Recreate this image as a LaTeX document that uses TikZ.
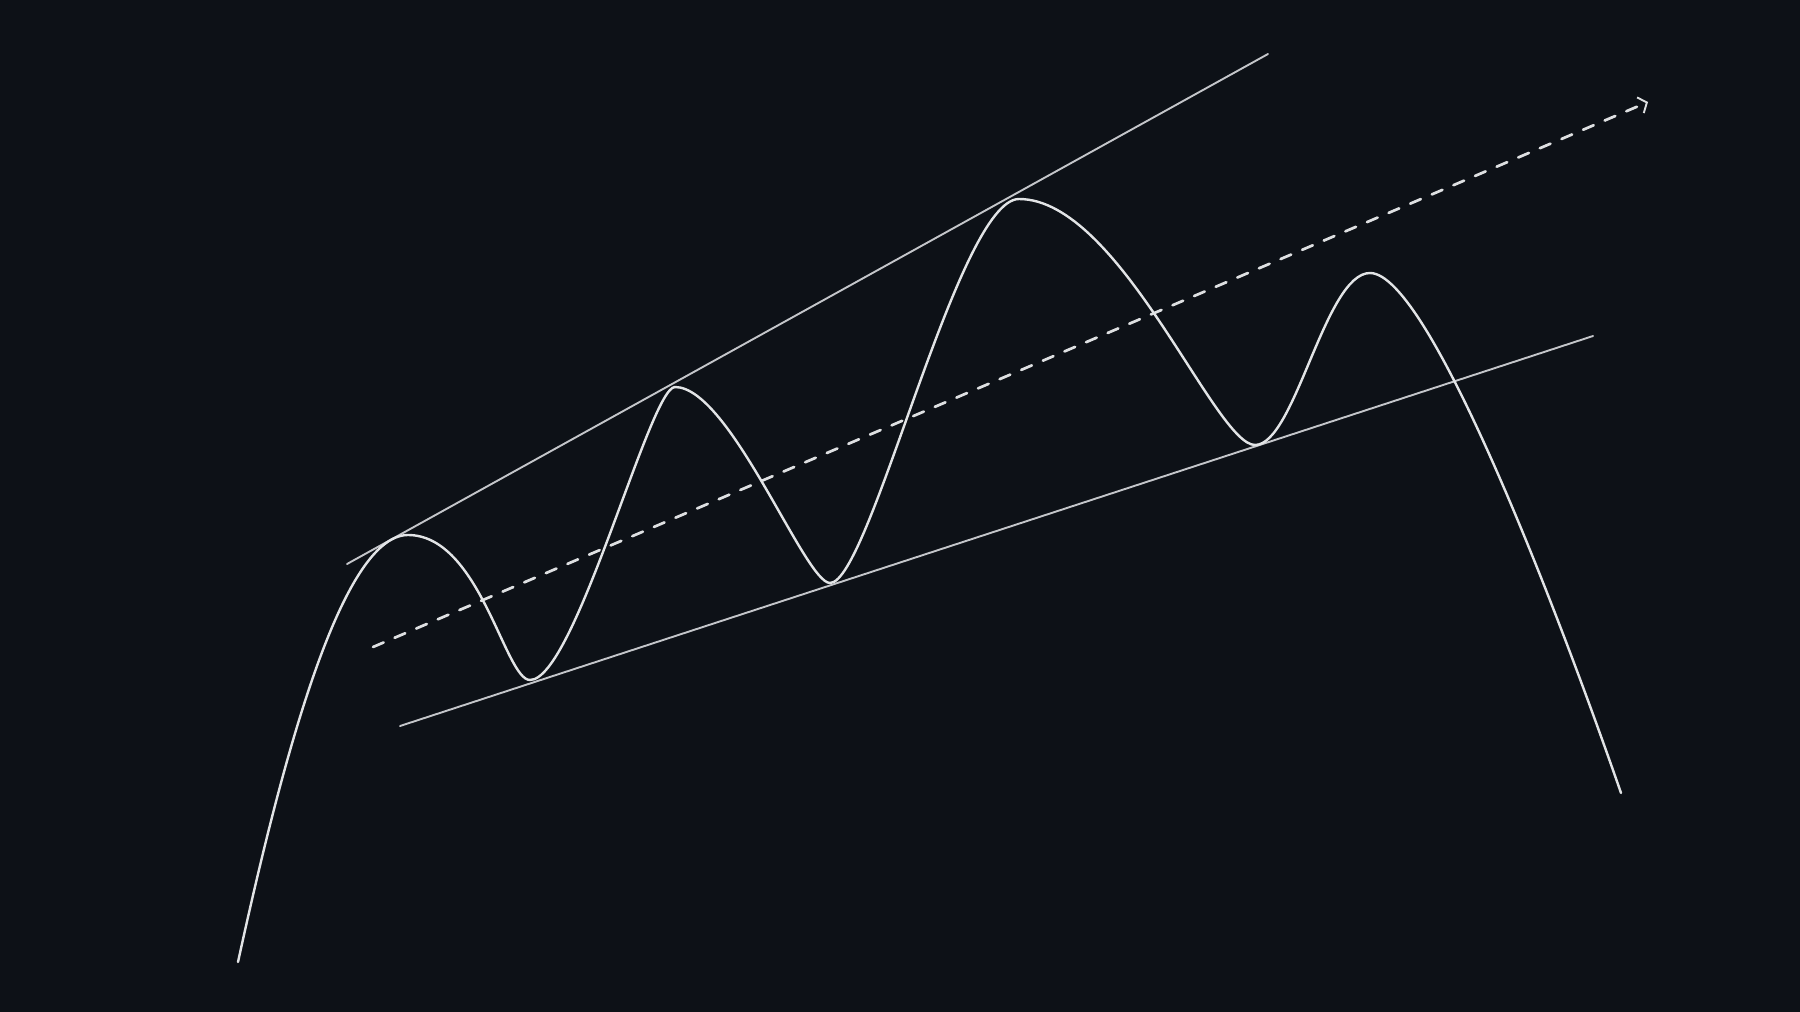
\documentclass[tikz,border=0pt]{standalone}
\usetikzlibrary{arrows.meta}
\definecolor{bgcol}{RGB}{13,17,23}
\definecolor{curvecol}{RGB}{226,228,230}
\definecolor{trendcol}{RGB}{196,198,202}
\definecolor{dashcol}{RGB}{222,224,226}
\tikzset{
  pricecurve/.style={draw=curvecol, line width=2.4pt, line cap=round, line join=round},
  trendline/.style={draw=trendcol, line width=1.9pt, line cap=round},
  midtrend/.style={draw=dashcol, line width=2.7pt, line cap=round, dash pattern=on 11.5pt off 12pt,
    -{Straight Barb[length=7pt,width=17pt,line width=1.9pt]}}
}
\begin{document}
\begin{tikzpicture}[x=1pt,y=-1pt]
  \path[fill=bgcol, use as bounding box] (0,0) rectangle (1800,1012);
  % price curve extremes
  \coordinate (s)  at (238,962);
  \coordinate (p1) at (408,535);
  \coordinate (t1) at (530,680);
  \coordinate (p2) at (675,387);
  \coordinate (t2) at (830,583);
  \coordinate (p3) at (1019,199);
  \coordinate (t3) at (1255,445);
  \coordinate (p4) at (1370,273);
  \coordinate (e)  at (1621,793);
  % trend lines
  \coordinate (u1) at (347,564);
  \coordinate (u2) at (1268,54);
  \coordinate (l1) at (400,726);
  \coordinate (l2) at (1593,336);
  \coordinate (d1) at (373,647);
  \coordinate (d2) at (1648,102);

  \draw[trendline] (u1) -- (u2);
  \draw[trendline] (l1) -- (l2);
  \draw[midtrend] (d1) -- (d2);

  \draw[pricecurve] (s)
     .. controls (280,770) and (340,535) .. (p1)
     .. controls (480,535) and (505,680) .. (t1)
     .. controls (575,680) and (650,387) .. (p2)
     .. controls (730,387) and (805,583) .. (t2)
     .. controls (870,583) and (958,199) .. (p3)
     .. controls (1120,199) and (1215,445) .. (t3)
     .. controls (1295,445) and (1325,273) .. (p4)
     .. controls (1430,273) and (1562,623) .. (e);
\end{tikzpicture}
\end{document}
